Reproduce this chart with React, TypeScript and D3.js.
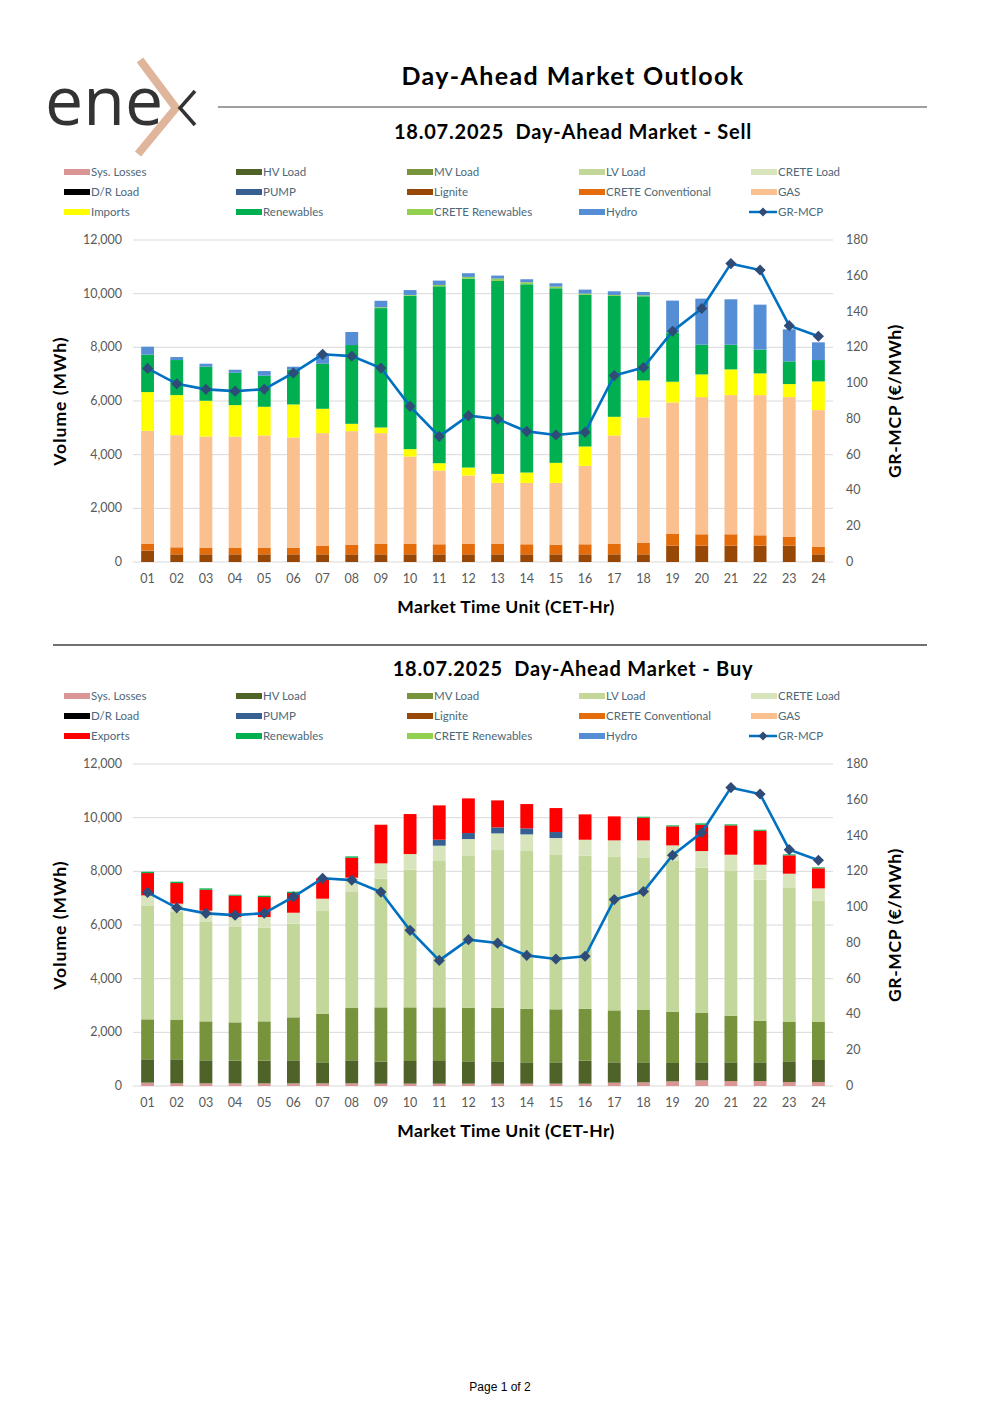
import React from "react";
import * as d3 from "d3";

// market time units
const hours = ["01","02","03","04","05","06","07","08","09","10","11","12","13","14","15","16","17","18","19","20","21","22","23","24"];

// sell side (MWh)
const lignite = [423,286,286,286,286,286,286,286,286,286,286,286,286,286,286,286,286,286,610,610,610,610,610,286];
const creteConv = [261,261,236,236,236,249,311,361,398,398,374,398,398,374,361,374,398,436,435,423,423,385,335,286];
const gas = [4205,4180,4155,4155,4193,4105,4205,4229,4118,3247,2749,2538,2264,2288,2301,2923,4031,4665,4901,5112,5187,5225,5200,5088];
const imports = [1443,1493,1332,1170,1070,1232,908,274,211,274,273,298,336,386,747,721,696,1380,772,846,958,809,486,1070];
const renewables = [1393,1306,1268,1206,1157,1306,1679,2936,4449,5717,6593,7042,7190,7016,6506,5648,4504,3135,1828,1107,920,883,845,796];
const creteRen = [0,0,0,0,0,0,0,0,30,30,50,62,88,75,62,50,37,38,0,0,0,0,0,0];
const hydro = [299,112,112,112,174,99,349,485,243,182,162,137,112,112,124,149,137,124,1195,1717,1692,1679,1195,660];

// buy side (MWh)
const sysLosses = [124,99,99,99,99,99,99,99,87,87,87,87,87,87,87,87,124,137,174,211,186,186,149,149];
const hvLoad = [870,895,857,845,845,857,783,857,820,845,845,832,832,795,795,857,758,745,683,671,696,696,770,820];
const mvLoad = [1490,1465,1453,1428,1465,1603,1813,1950,2024,1999,1999,2000,2000,1999,1975,1937,1937,1950,1913,1838,1739,1552,1466,1416];
const lvLoad = [4248,4024,3726,3577,3491,3490,3826,4322,4794,5130,5453,5676,5874,5875,5775,5701,5714,5688,5638,5415,5415,5254,5017,4508];
const creteLoad = [372,311,398,348,397,409,459,535,572,583,571,608,621,621,608,596,621,634,559,621,583,559,510,472];
const drLoad = [0,0,0,0,0,0,0,0,0,0,0,0,0,0,0,0,0,0,0,0,0,0,0,0];
const pump = [0,0,0,0,0,0,0,0,0,0,223,224,224,224,224,0,0,0,0,0,0,0,0,0];
const exportsVol = [832,770,782,795,745,733,758,745,1440,1491,1280,1291,1006,906,894,944,894,844,708,981,1093,1267,683,745];
const buyRenewables = [50,50,50,37,50,50,0,49,0,0,0,0,0,0,0,0,0,38,37,50,38,37,37,38];

// GR-MCP (€/MWh)
const price = [108.2,99.6,96.5,95.5,96.6,105.7,116.1,115.1,108.4,87.0,70.2,81.8,79.9,73.0,71.0,72.5,104.2,108.7,129.0,141.7,166.8,163.2,132.1,126.2];

const volumeTicks = [0,2000,4000,6000,8000,10000,12000];
const priceTicks = [0,20,40,60,80,100,120,140,160,180];

const colors: Record<string, string> = {
  "Sys. Losses": "#da9694",
  "HV Load": "#4f6228",
  "MV Load": "#77933c",
  "LV Load": "#c4d79b",
  "CRETE Load": "#d8e4bc",
  "D/R Load": "#000000",
  "PUMP": "#366092",
  "Lignite": "#974706",
  "CRETE Conventional": "#e46c0a",
  "GAS": "#fac090",
  "Imports": "#ffff00",
  "Exports": "#ff0000",
  "Renewables": "#00b050",
  "CRETE Renewables": "#92d050",
  "Hydro": "#558ed5",
};

const sellSeries: [string, number[]][] = [
  ["Lignite", lignite],
  ["CRETE Conventional", creteConv],
  ["GAS", gas],
  ["Imports", imports],
  ["Renewables", renewables],
  ["CRETE Renewables", creteRen],
  ["Hydro", hydro],
];
const buySeries: [string, number[]][] = [
  ["Sys. Losses", sysLosses],
  ["HV Load", hvLoad],
  ["MV Load", mvLoad],
  ["LV Load", lvLoad],
  ["CRETE Load", creteLoad],
  ["D/R Load", drLoad],
  ["PUMP", pump],
  ["Exports", exportsVol],
  ["Renewables", buyRenewables],
];

const legendRow1 = ["Sys. Losses", "HV Load", "MV Load", "LV Load", "CRETE Load"];
const legendRow2 = ["D/R Load", "PUMP", "Lignite", "CRETE Conventional", "GAS"];

const FONT = "Lato, 'DejaVu Sans', sans-serif";
const LINE = "#0070c0";
const MARK = "#2f4b78";

function Legend({ top, third }: { top: number; third: string }) {
  const cols = [64, 236, 407, 579, 751];
  const rows = [legendRow1, legendRow2, [third, "Renewables", "CRETE Renewables", "Hydro", "GR-MCP"]];
  return (
    <g fontFamily={FONT} fontSize={11.5} fill="#4d6878">
      {rows.map((row, ri) =>
        row.map((name, ci) => {
          const x = cols[ci];
          const y = top + ri * 20;
          return (
            <g key={name + ri}>
              {name === "GR-MCP" ? (
                <>
                  <line x1={x - 2} x2={x + 26} y1={y} y2={y} stroke={LINE} strokeWidth={2.5} />
                  <path d={d3.symbol(d3.symbolSquare, 40)() || ""} transform={`translate(${x + 12},${y}) rotate(45)`} fill={MARK} />
                </>
              ) : (
                <rect x={x} y={y - 3} width={26} height={6} fill={colors[name]} />
              )}
              <text x={x + 27} y={y + 4}>{name}</text>
            </g>
          );
        })
      )}
    </g>
  );
}

function Chart({ top, series }: { top: number; series: [string, number[]][] }) {
  const left = 133, right = 833, bottom = top + 322;
  const keys = series.map((s) => s[0]);
  const rows = hours.map((h, i) => {
    const r: Record<string, number | string> = { hour: h };
    series.forEach(([k, v]) => (r[k] = v[i]));
    return r;
  });
  const stacked = d3.stack<Record<string, number | string>>().keys(keys)(rows as any);
  const x = d3.scaleBand().domain(hours).range([left, right]).paddingInner(0.56).paddingOuter(0.28);
  const y = d3.scaleLinear().domain([0, 12000]).range([bottom, top]);
  const yR = d3.scaleLinear().domain([0, 180]).range([bottom, top]);
  const cx = (h: string) => (x(h) || 0) + x.bandwidth() / 2;
  const line = d3.line<number>().x((_, i) => cx(hours[i])).y((d) => yR(d));
  const diamond = d3.symbol(d3.symbolSquare, 62)() || "";
  const fmt = d3.format(",");
  return (
    <g fontFamily={FONT}>
      {volumeTicks.map((t) => (
        <g key={t}>
          <line x1={left} x2={right} y1={y(t)} y2={y(t)} stroke="#d9d9d9" strokeWidth={1} />
          <text x={122} y={y(t) + 4} textAnchor="end" fontSize={12.5} fill="#595959">{fmt(t)}</text>
        </g>
      ))}
      {priceTicks.map((t) => (
        <text key={t} x={846} y={yR(t) + 4} fontSize={12.5} fill="#595959">{t}</text>
      ))}
      {stacked.map((s) => (
        <g key={s.key} fill={colors[s.key]}>
          {s.map((d, i) =>
            d[1] - d[0] > 0 ? (
              <rect key={i} x={x(hours[i])} y={y(d[1])} width={x.bandwidth()} height={y(d[0]) - y(d[1])} />
            ) : null
          )}
        </g>
      ))}
      <path d={line(price) || ""} fill="none" stroke={LINE} strokeWidth={2.6} />
      {price.map((p, i) => (
        <path key={i} d={diamond} transform={`translate(${cx(hours[i])},${yR(p)}) rotate(45)`} fill={MARK} />
      ))}
      {hours.map((h) => (
        <text key={h} x={cx(h)} y={bottom + 21} textAnchor="middle" fontSize={12.5} fill="#595959">{h}</text>
      ))}
      <text x={506} y={bottom + 51} textAnchor="middle" fontSize={17.5} letterSpacing={0.4} fontWeight="bold" fill="#000">Market Time Unit (CET-Hr)</text>
      <text transform={`translate(66,${(top + bottom) / 2}) rotate(-90)`} textAnchor="middle" fontSize={17.5} letterSpacing={1} fontWeight="bold" fill="#000">Volume (MWh)</text>
      <text transform={`translate(901,${(top + bottom) / 2}) rotate(-90)`} textAnchor="middle" fontSize={17.5} letterSpacing={0.6} fontWeight="bold" fill="#000">GR-MCP (€/MWh)</text>
    </g>
  );
}

export default function App() {
  return (
    <svg width={1000} height={1415} style={{ position: "absolute", left: 0, top: 0, background: "#fff" }}>
      <rect width={1000} height={1415} fill="#fff" />
      {/* logo */}
      <text x={45} y={125} fontFamily="'Open Sans', sans-serif" fontSize={68} fill="#333">ene</text>
      <path d="M140,60 L176,108 L138,154" fill="none" stroke="#dfb59c" strokeWidth={8} strokeLinejoin="miter" />
      <path d="M195,91 L180,108 L195,125" fill="none" stroke="#333" strokeWidth={3.5} />

      <text x={573} y={85} textAnchor="middle" fontFamily={FONT} fontSize={25} letterSpacing={1.4} fontWeight="bold">Day-Ahead Market Outlook</text>
      <line x1={218} x2={927} y1={107} y2={107} stroke="#404040" strokeWidth={1.2} />
      <text x={573} y={139} textAnchor="middle" fontFamily={FONT} fontSize={20} letterSpacing={0.8} fontWeight="bold" style={{ whiteSpace: "pre" }}>18.07.2025  Day-Ahead Market - Sell</text>
      <Legend top={172} third="Imports" />
      <Chart top={240} series={sellSeries} />

      <line x1={53} x2={927} y1={645} y2={645} stroke="#404040" strokeWidth={1.5} />
      <text x={573} y={676} textAnchor="middle" fontFamily={FONT} fontSize={20} letterSpacing={0.8} fontWeight="bold" style={{ whiteSpace: "pre" }}>18.07.2025  Day-Ahead Market - Buy</text>
      <Legend top={696} third="Exports" />
      <Chart top={764} series={buySeries} />

      <text x={500} y={1391} textAnchor="middle" fontFamily="'Liberation Sans', Arial, sans-serif" fontSize={12}>Page 1 of 2</text>
    </svg>
  );
}
